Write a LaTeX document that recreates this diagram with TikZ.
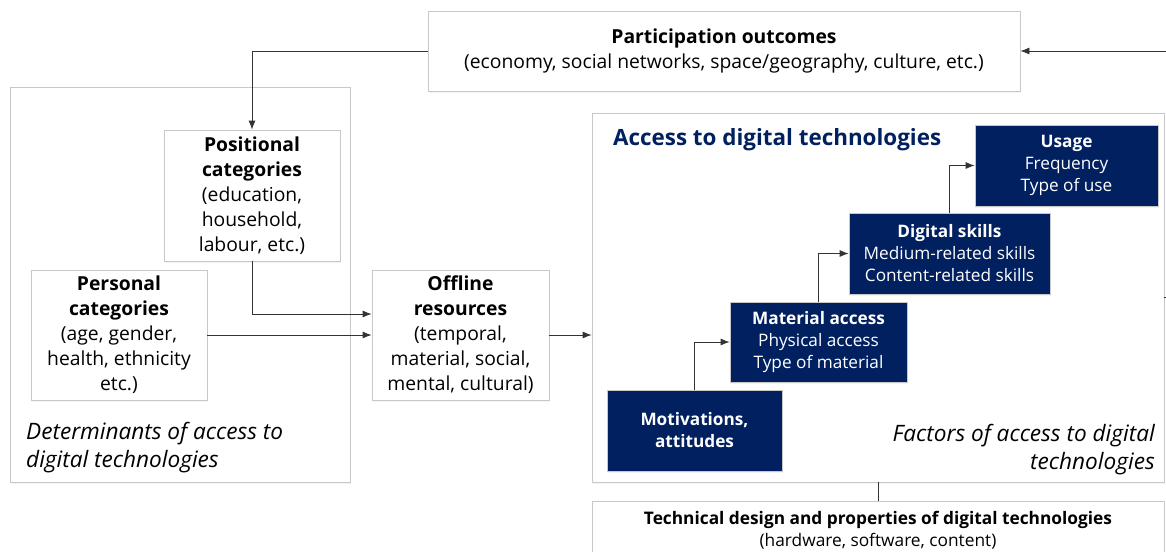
\documentclass[tikz,border=0pt]{standalone}
\usepackage{fontspec}
\setmainfont{Open Sans}
\usetikzlibrary{arrows.meta,shadows}
\definecolor{navy}{RGB}{0,32,96}
\definecolor{boxgray}{RGB}{200,200,200}
\tikzset{
  lightbox/.style={draw=boxgray, fill=white, line width=0.8pt, align=center, inner sep=0pt,
    drop shadow={shadow xshift=1pt, shadow yshift=-1.5pt, fill=navy!10}},
  darkbox/.style={lightbox, fill=navy, text=white, font=\fontsize{17.2}{22}\selectfont},
  leftbox/.style={lightbox, font=\fontsize{19.3}{25}\selectfont},
  link/.style={draw=black!80, line width=0.8pt, -{Latex[length=9pt,width=7pt]}},
  plain/.style={draw=black!80, line width=0.8pt},
  caption/.style={font=\fontsize{22.6}{28}\selectfont\itshape, inner sep=0pt},
}
\begin{document}
\begin{tikzpicture}[x=1pt, y=-1pt]
  \useasboundingbox (0,0) rectangle (1166,551);
  \clip (0,0) rectangle (1166,551);

  % left group
  \node[lightbox, minimum width=340pt, minimum height=395pt] (determ) at (180,284.5) {};
  \node[caption, anchor=west, align=left] (determtext) at (26,448)
    {Determinants of access to\\digital technologies};
  \node[leftbox, minimum width=176pt, minimum height=131pt] (position) at (252,195.5)
    {\textbf{Positional}\\\textbf{categories}\\(education,\\household,\\labour, etc.)};
  \node[leftbox, minimum width=176pt, minimum height=130pt] (personal) at (119,335)
    {\textbf{Personal}\\\textbf{categories}\\(age, gender,\\health, ethnicity\\etc.)};
  \node[leftbox, minimum width=177pt, minimum height=130pt] (offline) at (460.5,335)
    {\textbf{Offline}\\\textbf{resources}\\(temporal,\\material, social,\\mental, cultural)};

  % top
  \node[leftbox, minimum width=592pt, minimum height=80pt] (outcomes) at (724,51)
    {\textbf{Participation outcomes}\\(economy, social networks, space/geography, culture, etc.)};

  % right group
  \node[lightbox, minimum width=572pt, minimum height=369pt] (access) at (878,297.5) {};
  \node[anchor=west, inner sep=0pt, text=navy, font=\fontsize{22.4}{26}\selectfont\bfseries]
    (accesstitle) at (613,140) {Access to digital technologies};
  \node[caption, anchor=east, align=right] (factors) at (1155,450)
    {Factors of access to digital\\technologies};
  \node[darkbox, minimum width=175pt, minimum height=81pt] (motiv) at (694.5,430.5)
    {\textbf{Motivations,}\\\textbf{attitudes}};
  \node[darkbox, minimum width=177pt, minimum height=80pt] (material) at (818.5,342)
    {\textbf{Material access}\\Physical access\\Type of material};
  \node[darkbox, minimum width=201pt, minimum height=81pt] (skills) at (949.5,253.5)
    {\textbf{Digital skills}\\Medium-related skills\\Content-related skills};
  \node[darkbox, minimum width=183pt, minimum height=81pt] (usage) at (1066.5,165.5)
    {\textbf{Usage}\\Frequency\\Type of use};

  \node[lightbox, anchor=north, minimum width=572pt, inner ysep=10pt,
    font=\fontsize{17.3}{22}\selectfont] (technical) at (878,501)
    {\textbf{Technical design and properties of digital technologies}\\(hardware, software, content)};

  % connectors
  \coordinate (loopin) at (1170,51);
  \coordinate (loopout) at (1170,297.5);
  \draw[link] (loopin) -- (outcomes.east);
  \draw[plain] (access.east) -- (loopout);
  \draw[link] (outcomes.west) -| (position.north);
  \draw[link] (position.south) |- ([yshift=21pt]offline.west);
  \draw[link] (personal.east) -- (offline.west);
  \draw[link] (offline.east) -- (offline.east -| access.west);
  \draw[link] (motiv.north) |- (material.west);
  \draw[link] (material.north) |- (skills.west);
  \draw[link] (skills.north) |- (usage.west);
  \draw[plain] (access.south) -- (technical.north);
\end{tikzpicture}
\end{document}
